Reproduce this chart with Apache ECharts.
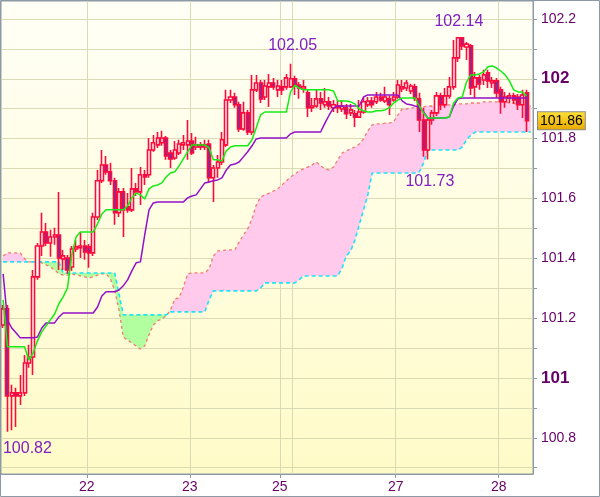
<!DOCTYPE html>
<html>
<head>
<meta charset="utf-8">
<script src="https://cdn.jsdelivr.net/npm/echarts@6/dist/echarts.min.js"></script>
<style>
html,body{margin:0;padding:0;background:#fff;}
#chart{width:600px;height:497px;}
</style>
</head>
<body>
<div id="chart"></div>
<script>
// ---------- DATA ----------
// hourly slots (124), day boundaries marked on the axis
const categories = Array.from({length: 124}, (_, i) => 'h' + i);
const dayTickIndex = [20, 44, 65, 92, 116];
const dayTickText = ['22', '23', '25', '27', '28'];
const dayGridIndex = [20, 44, 65, 68, 92, 116];
const priceTickValues = [100.8, 101, 101.2, 101.4, 101.6, 101.8, 102, 102.2];
const priceMinorTicks = [100.7, 100.8, 100.9, 101, 101.1, 101.2, 101.3, 101.4, 101.5, 101.6, 101.7, 101.8, 101.9, 102, 102.1, 102.2];

const candleOpen = [
101.177,101.231,100.940,100.950,100.940,100.950,101.050,101.070,101.338,101.441,
101.488,101.451,101.471,101.478,101.398,101.401,101.371,101.431,101.435,101.441,
101.438,101.418,101.538,101.659,101.712,101.689,101.659,101.552,101.622,101.572,
101.562,101.632,101.622,101.679,101.679,101.762,101.779,101.786,101.802,101.752,
101.735,101.752,101.779,101.779,101.792,101.772,101.779,101.772,101.782,101.669,
101.702,101.722,101.779,101.929,101.939,101.913,101.832,101.886,101.822,101.963,
101.986,101.939,101.973,101.986,101.963,101.973,101.973,101.973,102.000,101.979,
101.966,101.953,101.903,101.909,101.933,101.913,101.923,101.903,101.909,101.899,
101.903,101.886,101.883,101.872,101.889,101.913,101.926,101.923,101.939,101.926,
101.933,101.929,101.939,101.966,101.969,101.959,101.973,101.933,101.862,101.762,
101.862,101.886,101.943,101.913,101.943,101.973,102.070,102.137,102.106,102.110,
101.973,102.003,101.996,102.020,101.986,101.993,101.963,101.923,101.936,101.943,
101.939,101.913,101.953];
const candleClose = [
101.231,100.940,100.950,100.940,100.950,101.050,101.070,101.338,101.441,101.488,
101.451,101.471,101.478,101.401,101.408,101.361,101.431,101.438,101.441,101.421,
101.418,101.538,101.659,101.712,101.689,101.659,101.552,101.622,101.562,101.562,
101.632,101.622,101.679,101.672,101.762,101.786,101.802,101.802,101.742,101.732,
101.762,101.782,101.786,101.792,101.752,101.779,101.772,101.779,101.669,101.702,
101.722,101.796,101.929,101.939,101.913,101.832,101.886,101.822,101.963,101.986,
101.933,101.976,101.986,101.973,101.976,101.963,102.003,102.000,101.976,101.969,
101.973,101.903,101.909,101.933,101.919,101.923,101.909,101.913,101.903,101.909,
101.883,101.896,101.872,101.889,101.923,101.926,101.913,101.939,101.929,101.939,
101.913,101.939,101.979,101.973,101.986,101.976,101.936,101.862,101.762,101.862,
101.886,101.943,101.913,101.943,101.973,102.070,102.137,102.110,102.116,101.969,
102.003,101.983,102.013,101.993,101.993,101.953,101.923,101.939,101.943,101.929,
101.913,101.946,101.860];
const candleLow = [
101.167,100.820,100.825,100.836,100.910,100.940,101.034,101.010,101.328,101.408,
101.441,101.405,101.445,101.361,101.361,101.348,101.358,101.421,101.401,101.395,
101.368,101.408,101.528,101.652,101.679,101.645,101.512,101.538,101.471,101.552,
101.555,101.608,101.578,101.645,101.669,101.756,101.769,101.776,101.729,101.702,
101.729,101.745,101.762,101.729,101.745,101.762,101.762,101.762,101.652,101.588,
101.669,101.712,101.772,101.919,101.903,101.822,101.826,101.812,101.812,101.956,
101.919,101.929,101.906,101.963,101.939,101.946,101.963,101.969,101.946,101.933,
101.953,101.872,101.889,101.903,101.896,101.903,101.896,101.889,101.886,101.889,
101.866,101.876,101.839,101.869,101.883,101.906,101.903,101.916,101.923,101.919,
101.879,101.923,101.933,101.956,101.959,101.949,101.926,101.822,101.739,101.730,
101.846,101.876,101.896,101.903,101.933,101.963,102.056,102.096,102.063,101.946,
101.936,101.963,101.979,101.969,101.969,101.936,101.883,101.903,101.919,101.916,
101.896,101.869,101.822];
const candleHigh = [
101.244,101.244,100.977,100.967,101.010,101.077,101.111,101.361,101.451,101.552,
101.518,101.495,101.502,101.622,101.428,101.411,101.441,101.461,101.488,101.461,
101.448,101.552,101.695,101.762,101.742,101.719,101.669,101.635,101.635,101.618,
101.702,101.652,101.705,101.695,101.802,101.812,101.822,101.826,101.809,101.762,
101.792,101.796,101.812,101.862,101.819,101.806,101.789,101.796,101.796,101.712,
101.745,101.822,101.963,101.963,101.953,101.923,101.923,101.896,102.013,102.013,
101.996,101.996,102.016,102.003,101.996,101.996,102.016,102.050,102.010,101.989,
101.996,101.963,101.936,101.963,101.956,101.969,101.939,101.929,101.929,101.929,
101.916,101.916,101.896,101.929,101.936,101.939,101.939,101.956,101.953,101.973,
101.943,101.956,101.996,101.996,101.996,101.983,101.983,101.953,101.903,101.869,
101.896,101.956,101.953,101.969,102.006,102.130,102.140,102.140,102.123,102.116,
102.023,102.013,102.030,102.030,102.006,102.003,101.973,101.956,101.953,101.953,
101.949,101.963,101.963];

// Ichimoku lines
const tenkanSen = [
101.261,101.104,101.104,101.104,101.104,101.104,101.060,101.084,101.124,101.154,
101.174,101.194,101.214,101.248,101.271,101.301,101.411,101.471,101.488,101.488,
101.488,101.488,101.515,101.548,101.562,101.562,101.562,101.562,101.562,101.575,
101.602,101.618,101.612,101.598,101.632,101.642,101.645,101.652,101.672,101.685,
101.689,101.709,101.732,101.756,101.779,101.779,101.779,101.779,101.769,101.729,
101.729,101.725,101.759,101.772,101.776,101.776,101.776,101.776,101.796,101.836,
101.879,101.889,101.889,101.889,101.889,101.889,101.889,101.956,101.979,101.969,
101.963,101.963,101.963,101.963,101.963,101.963,101.963,101.959,101.926,101.926,
101.926,101.923,101.916,101.899,101.893,101.889,101.889,101.893,101.893,101.896,
101.903,101.919,101.929,101.936,101.936,101.936,101.936,101.909,101.886,101.869,
101.869,101.869,101.869,101.869,101.872,101.919,101.936,101.939,101.989,102.013,
102.013,102.016,102.023,102.040,102.043,102.036,102.026,102.013,101.993,101.963,
101.956,101.956,101.943,null];
const kijunSen = [
101.348,101.194,101.167,101.151,101.134,101.134,101.134,101.134,101.137,101.167,
101.184,101.184,101.184,101.204,101.217,101.217,101.217,101.217,101.217,101.217,
101.217,101.217,101.237,101.274,101.288,101.288,101.288,101.294,101.308,101.328,
101.358,101.385,101.388,101.478,101.562,101.585,101.588,101.588,101.588,101.588,
101.588,101.588,101.588,101.602,101.608,101.612,101.632,101.652,101.655,101.659,
101.662,101.669,101.695,101.712,101.715,101.722,101.739,101.756,101.776,101.799,
101.802,101.802,101.802,101.802,101.802,101.802,101.802,101.816,101.822,101.822,
101.822,101.822,101.822,101.822,101.822,101.852,101.879,101.903,101.909,101.909,
101.909,101.909,101.909,101.909,101.939,101.946,101.946,101.946,101.946,101.946,
101.946,101.946,101.946,101.926,101.916,101.913,101.909,101.906,101.889,101.869,
101.869,101.869,101.869,101.869,101.872,101.909,101.933,101.936,101.936,101.936,
101.936,101.936,101.936,101.936,101.936,101.936,101.936,101.936,101.936,101.936,
101.936,101.936,101.936,null];
const senkouA = [
101.408,101.418,101.418,101.418,101.418,101.398,101.388,101.388,101.388,101.385,
101.378,101.371,101.361,101.348,101.344,101.344,101.348,101.344,101.341,101.338,
101.334,101.338,101.344,101.348,101.348,101.331,101.294,101.227,101.137,101.127,
101.117,101.107,101.097,101.107,101.144,101.177,101.191,101.197,101.207,101.227,
101.264,101.268,101.304,101.348,101.351,101.351,101.351,101.351,101.364,101.408,
101.425,101.425,101.428,101.428,101.428,101.455,101.478,101.498,101.532,101.578,
101.605,101.612,101.618,101.625,101.632,101.645,101.659,101.672,101.682,101.692,
101.699,101.705,101.712,101.722,101.709,101.699,101.695,101.705,101.729,101.752,
101.759,101.766,101.772,101.782,101.799,101.826,101.846,101.849,101.849,101.852,
101.852,101.856,101.879,101.899,101.899,101.903,101.903,101.906,101.906,101.909,
101.909,101.913,101.913,101.913,101.913,101.913,101.916,101.916,101.916,101.919,
101.919,101.919,101.923,101.923,101.923,101.923,101.923,101.923,101.919,101.919,
101.919,101.916,101.913,101.909];
const senkouB = [
101.388,101.388,101.388,101.388,101.388,101.388,101.388,101.388,101.388,101.388,
101.388,101.388,101.388,101.388,101.351,101.351,101.351,101.351,101.351,101.351,
101.351,101.351,101.351,101.351,101.351,101.351,101.351,101.281,101.211,101.211,
101.211,101.211,101.211,101.211,101.211,101.211,101.211,101.211,101.211,101.221,
101.221,101.221,101.221,101.221,101.221,101.221,101.221,101.221,101.261,101.291,
101.291,101.291,101.291,101.291,101.291,101.291,101.291,101.291,101.291,101.291,
101.301,101.318,101.318,101.318,101.318,101.318,101.318,101.318,101.318,101.328,
101.341,101.341,101.341,101.341,101.341,101.341,101.341,101.341,101.341,101.368,
101.408,101.425,101.461,101.512,101.562,101.612,101.685,101.685,101.685,101.685,
101.685,101.685,101.685,101.685,101.685,101.685,101.685,101.689,101.719,101.762,
101.762,101.762,101.762,101.762,101.762,101.762,101.762,101.772,101.796,101.812,
101.822,101.822,101.822,101.822,101.822,101.822,101.822,101.822,101.822,101.822,
101.822,101.822,101.822,101.822];

// annotated extremes
const noteIndex = [1, 67, 99, 106];
const noteValue = [100.82, 102.05, 101.73, 102.14];

// ---------- BUILD ----------
const FONT = '"Liberation Sans", Arial, sans-serif';
const candleData = candleOpen.map((o, i) => [o, candleClose[i], candleLow[i], candleHigh[i]]);
const lastClose = candleClose[candleClose.length - 1];
const kumoLow = senkouA.map((a, i) => Math.min(a, senkouB[i]));
const kumoUp = senkouA.map((a, i) => a > senkouB[i] ? +(a - senkouB[i]).toFixed(4) : 0);
const kumoDown = senkouA.map((a, i) => senkouB[i] > a ? +(senkouB[i] - a).toFixed(4) : 0);
const boundaryCats = Array.from({length: 125}, (_, i) => {
  const k = dayTickIndex.indexOf(i);
  return k >= 0 ? dayTickText[k] : '';
});
const noteOffsets = [[20, 17], [2, -18], [2, 22], [1, -15]];

const chart = echarts.init(document.getElementById('chart'), null, {renderer: 'canvas'});
const option = {
  animation: false,
  backgroundColor: '#ffffff',
  textStyle: {fontFamily: FONT},
  grid: {
    left: 1, top: 1, right: 67, bottom: 23, show: true,
    borderColor: '#8d9aa5', borderWidth: 1,
    backgroundColor: {type: 'linear', x: 0, y: 0, x2: 0, y2: 1,
      colorStops: [{offset: 0, color: '#fffff7'}, {offset: 1, color: '#fffbc8'}]}
  },
  xAxis: [
    {
      type: 'category', data: categories, boundaryGap: true,
      axisLine: {show: false}, axisTick: {show: false}, axisLabel: {show: false},
      splitLine: {show: true, interval: (i) => dayGridIndex.includes(i),
        lineStyle: {color: '#dadab4', width: 1}}
    },
    {
      type: 'category', position: 'bottom', data: boundaryCats, boundaryGap: false,
      axisLine: {show: true, lineStyle: {color: '#8d9aa5'}},
      axisTick: {show: true, interval: (i) => dayTickIndex.includes(i), length: 4,
        lineStyle: {color: '#8d9aa5'}},
      axisLabel: {show: true, interval: (i) => dayTickIndex.includes(i),
        color: '#660066', fontSize: 14, fontFamily: FONT, margin: 6},
      splitLine: {show: false}
    }
  ],
  yAxis: {
    type: 'value', position: 'right', min: 100.679, max: 102.26, splitNumber: 8,
    axisLine: {show: true, lineStyle: {color: '#8d9aa5'}},
    axisTick: {show: true, length: 4, customValues: priceMinorTicks, lineStyle: {color: '#8d9aa5'}},
    axisLabel: {
      show: true, customValues: priceTickValues, color: '#660066', fontSize: 14, fontFamily: FONT, margin: 8,
      formatter: (v) => Math.abs(v - Math.round(v)) < 1e-6 ? '{b|' + Math.round(v) + '}' : (+v).toFixed(1),
      rich: {b: {fontWeight: 'bold', fontSize: 17, color: '#660066', fontFamily: FONT}}
    },
    splitLine: {show: true, lineStyle: {color: '#dadab4', width: 1}}
  },
  series: [
    {type: 'line', data: kumoLow, stack: 'kumo', symbol: 'none', silent: true,
      lineStyle: {width: 0}, z: 1},
    {type: 'line', data: kumoUp, stack: 'kumo', symbol: 'none', silent: true,
      lineStyle: {width: 0}, areaStyle: {color: '#ffcaec', opacity: 1}, z: 1},
    {type: 'line', data: kumoDown, stack: 'kumo', symbol: 'none', silent: true,
      lineStyle: {width: 0}, areaStyle: {color: '#b2ffa0', opacity: 1}, z: 1},
    {type: 'line', data: senkouA, symbol: 'none', silent: true, z: 2,
      lineStyle: {color: '#f47a6e', width: 1.3, type: [3, 3]}},
    {type: 'line', data: senkouB, symbol: 'none', silent: true, z: 2,
      lineStyle: {color: '#1ee3f5', width: 1.6, type: [4, 3]}},
    {
      type: 'candlestick', data: candleData, barWidth: 3.6, clip: false, z: 3,
      itemStyle: {color: '#fffff8', color0: '#86299a', borderColor: '#ff0a3c', borderColor0: '#ff0a3c', borderWidth: 1.6},
      markPoint: {
        symbol: 'circle', symbolSize: 0, silent: true,
        label: {show: true, color: '#8020c0', fontSize: 16, fontFamily: FONT,
          formatter: (p) => (+p.value).toFixed(2)},
        data: noteIndex.map((idx, k) => ({coord: [idx, noteValue[k]], value: noteValue[k],
          label: {offset: noteOffsets[k]}}))
      },
      markLine: {
        symbol: ['none', 'none'], silent: true,
        lineStyle: {color: 'rgba(0,0,0,0)', width: 1},
        label: {show: true, position: 'end', distance: 5,
          formatter: () => lastClose.toFixed(2),
          color: '#000', fontSize: 14, fontFamily: FONT,
          backgroundColor: {type: 'linear', x: 0, y: 0, x2: 0, y2: 1,
            colorStops: [{offset: 0, color: '#ffe23a'}, {offset: 1, color: '#e8a800'}]},
          borderColor: '#8a8a8a', borderWidth: 1, padding: [2, 2, 1, 2]},
        data: [{yAxis: lastClose}]
      }
    },
    {type: 'line', data: kijunSen, symbol: 'none', silent: true, z: 4,
      lineStyle: {color: '#9410c8', width: 1.5}},
    {type: 'line', data: tenkanSen, symbol: 'none', silent: true, z: 4,
      lineStyle: {color: '#14ec14', width: 1.5}}
  ],
  graphic: [{
    type: 'rect', silent: true, z: 100,
    shape: {x: 0.5, y: 0.5, width: 599, height: 496},
    style: {fill: 'none', stroke: '#8d9aa5', lineWidth: 1}
  }]
};
chart.setOption(option);
</script>
</body>
</html>
